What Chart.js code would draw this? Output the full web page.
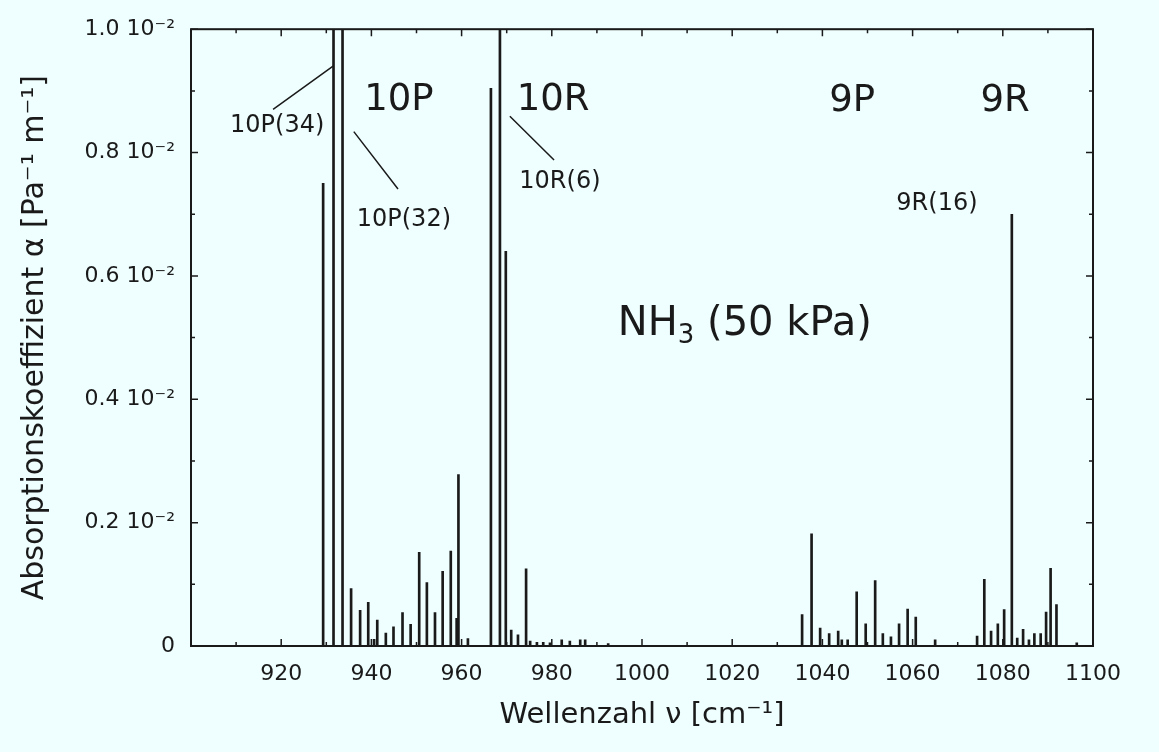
<!DOCTYPE html>
<html>
<head>
<meta charset="utf-8">
<title>NH3 Absorptionsspektrum</title>
<script src="https://cdn.jsdelivr.net/npm/chart.js@4.4.1/dist/chart.umd.min.js"></script>
<style>
  html, body { margin: 0; padding: 0; background: #effefe; }
  #wrap { width: 1159px; height: 752px; }
</style>
</head>
<body>
<div id="wrap"><canvas id="chart" width="1159" height="752"></canvas></div>
<script>
// Wellenzahl (cm^-1) und Absorptionskoeffizient (in 10^-2 Pa^-1 m^-1)
// Werte > 1.0 laufen oben aus dem Bild heraus
const nu10P = [929.3, 931.6, 933.6, 935.5, 937.5, 939.3, 940.6, 941.3, 943.2, 944.9,
  946.9, 948.7, 950.6, 952.3, 954.1, 955.8, 957.6, 958.9, 959.3, 961.4];
const alpha10P = [0.75, 1.2, 1.2, 0.093, 0.058, 0.071, 0.011, 0.042, 0.021, 0.031,
  0.054, 0.035, 0.152, 0.103, 0.054, 0.121, 0.154, 0.045, 0.278, 0.012];

const nu10R = [966.5, 968.5, 969.8, 971.0, 972.5, 974.3, 975.2, 976.7, 978.1, 979.6,
  982.2, 984.0, 986.3, 987.4, 992.5];
const alpha10R = [0.904, 1.2, 0.64, 0.026, 0.018, 0.125, 0.008, 0.006, 0.006, 0.005,
  0.01, 0.008, 0.01, 0.01, 0.004];

const nu9P = [1035.5, 1037.6, 1039.5, 1041.5, 1043.5, 1044.3, 1045.6, 1047.6, 1049.6, 1051.7,
  1053.4, 1055.2, 1057.0, 1058.9, 1060.7, 1065.0];
const alpha9P = [0.051, 0.182, 0.029, 0.020, 0.024, 0.010, 0.010, 0.088, 0.036, 0.106,
  0.020, 0.015, 0.036, 0.060, 0.047, 0.010];

const nu9R = [1074.3, 1075.9, 1077.4, 1078.9, 1080.3, 1082.0, 1083.2, 1084.5, 1085.8, 1087.0,
  1088.4, 1089.6, 1090.6, 1091.9, 1096.4];
const alpha9R = [0.016, 0.108, 0.024, 0.036, 0.059, 0.70, 0.013, 0.027, 0.010, 0.020,
  0.020, 0.055, 0.126, 0.067, 0.005];

const xTickValues = [920, 940, 960, 980, 1000, 1020, 1040, 1060, 1080, 1100];
const yTickValues = [0, 0.2, 0.4, 0.6, 0.8, 1.0];
const yTickLabels = ["0", "0.2 10\u207B\u00B2", "0.4 10\u207B\u00B2", "0.6 10\u207B\u00B2",
  "0.8 10\u207B\u00B2", "1.0 10\u207B\u00B2"];

const BG = "#effefe";
const INK = "#1a1a1a";
const FONT = "'DejaVu Sans', sans-serif";

// build points for the stick spectrum
const points = [];
[[nu10P, alpha10P], [nu10R, alpha10R], [nu9P, alpha9P], [nu9R, alpha9R]].forEach(([nus, alphas]) => {
  nus.forEach((nu, i) => points.push({ x: nu, y: alphas[i] }));
});

// Texts inside the plot, in data coordinates
const bandLabels = [
  { text: "10P", x: 946.1, y: 0.884 },
  { text: "10R", x: 980.3, y: 0.884 },
  { text: "9P", x: 1046.6, y: 0.883 },
  { text: "9R", x: 1080.5, y: 0.883 },
];
const lineLabels = [
  { text: "10P(34)", x: 919.1, y: 0.844 },
  { text: "10P(32)", x: 947.2, y: 0.691 },
  { text: "10R(6)", x: 981.8, y: 0.752 },
  { text: "9R(16)", x: 1065.4, y: 0.717 },
];
const leaders = [
  [918.2, 0.870, 931.5, 0.940],
  [936.1, 0.834, 945.9, 0.741],
  [970.7, 0.859, 980.5, 0.788],
];

const decorations = {
  id: "decorations",
  beforeDraw(chart) {
    const ctx = chart.ctx;
    ctx.save();
    ctx.fillStyle = BG;
    ctx.fillRect(0, 0, chart.width, chart.height);
    ctx.restore();
  },
  afterDatasetsDraw(chart) {
    const { ctx, chartArea: a, scales: { x, y } } = chart;
    ctx.save();
    ctx.strokeStyle = INK;
    ctx.fillStyle = INK;

    // frame
    ctx.lineWidth = 2;
    ctx.strokeRect(a.left, a.top, a.right - a.left, a.bottom - a.top);

    // inward ticks on all four sides
    ctx.lineWidth = 1.5;
    ctx.beginPath();
    for (let v = 900; v <= 1100; v += 10) {
      const px = x.getPixelForValue(v);
      const len = v % 20 === 0 ? 7 : 4;
      ctx.moveTo(px, a.bottom); ctx.lineTo(px, a.bottom - len);
      ctx.moveTo(px, a.top); ctx.lineTo(px, a.top + len);
    }
    for (let i = 0; i <= 10; i++) {
      const py = y.getPixelForValue(i / 10);
      const len = i % 2 === 0 ? 7 : 4;
      ctx.moveTo(a.left, py); ctx.lineTo(a.left + len, py);
      ctx.moveTo(a.right, py); ctx.lineTo(a.right - len, py);
    }
    ctx.stroke();

    ctx.textAlign = "center";
    ctx.textBaseline = "middle";

    // band names
    ctx.font = "37px " + FONT;
    bandLabels.forEach((l) => {
      ctx.fillText(l.text, x.getPixelForValue(l.x), y.getPixelForValue(l.y));
    });

    // single line names and leader lines
    ctx.font = "24px " + FONT;
    lineLabels.forEach((l) => {
      ctx.fillText(l.text, x.getPixelForValue(l.x), y.getPixelForValue(l.y));
    });
    ctx.lineWidth = 1.5;
    ctx.beginPath();
    leaders.forEach(([x1, y1, x2, y2]) => {
      ctx.moveTo(x.getPixelForValue(x1), y.getPixelForValue(y1));
      ctx.lineTo(x.getPixelForValue(x2), y.getPixelForValue(y2));
    });
    ctx.stroke();

    // NH3 (50 kPa) with subscript 3
    const cx = x.getPixelForValue(1022.8);
    const cy = y.getPixelForValue(0.521);
    const big = "40px " + FONT;
    const small = "26px " + FONT;
    ctx.font = big;
    const wNH = ctx.measureText("NH").width;
    const wRest = ctx.measureText(" (50 kPa)").width;
    ctx.font = small;
    const w3 = ctx.measureText("3").width;
    let left = cx - (wNH + w3 + wRest) / 2;
    ctx.textAlign = "left";
    ctx.font = big;
    ctx.fillText("NH", left, cy);
    left += wNH;
    ctx.font = small;
    ctx.fillText("3", left, cy + 12);
    left += w3;
    ctx.font = big;
    ctx.fillText(" (50 kPa)", left, cy);

    ctx.restore();
  },
};

const ctx = document.getElementById("chart").getContext("2d");
new Chart(ctx, {
  type: "bar",
  data: {
    datasets: [
      {
        data: points,
        backgroundColor: INK,
        barThickness: 2,
        borderWidth: 0,
      },
    ],
  },
  options: {
    responsive: false,
    animation: false,
    layout: { padding: { top: 24, right: 66, left: 0, bottom: 0 } },
    plugins: {
      legend: { display: false },
      tooltip: { enabled: false },
    },
    scales: {
      x: {
        type: "linear",
        min: 900,
        max: 1100,
        offset: false,
        grid: { display: false, drawTicks: false, offset: false },
        border: { display: false },
        afterBuildTicks: (scale) => {
          scale.ticks = xTickValues.map((v) => ({ value: v }));
        },
        afterFit: (scale) => {
          scale.height = 106;
        },
        ticks: {
          padding: 15,
          color: INK,
          font: { family: FONT, size: 22 },
          maxRotation: 0,
          callback: (v) => String(v),
        },
        title: {
          display: true,
          text: "Wellenzahl \u03BD [cm\u207B\u00B9]",
          color: INK,
          font: { family: FONT, size: 29 },
          padding: { top: 0, bottom: 19 },
        },
      },
      y: {
        min: 0,
        max: 1.0,
        grid: { display: false, drawTicks: false },
        border: { display: false },
        afterBuildTicks: (scale) => {
          scale.ticks = yTickValues.map((v) => ({ value: v }));
        },
        afterFit: (scale) => {
          scale.width = 191;
        },
        ticks: {
          padding: 16,
          color: INK,
          font: { family: FONT, size: 22 },
          callback: (v) => yTickLabels[yTickValues.findIndex((t) => Math.abs(t - v) < 1e-9)],
        },
        title: {
          display: true,
          text: "Absorptionskoeffizient \u03B1 [Pa\u207B\u00B9 m\u207B\u00B9]",
          color: INK,
          font: { family: FONT, size: 30 },
          padding: { top: 17, bottom: 0 },
        },
      },
    },
  },
  plugins: [decorations],
});
</script>
</body>
</html>
